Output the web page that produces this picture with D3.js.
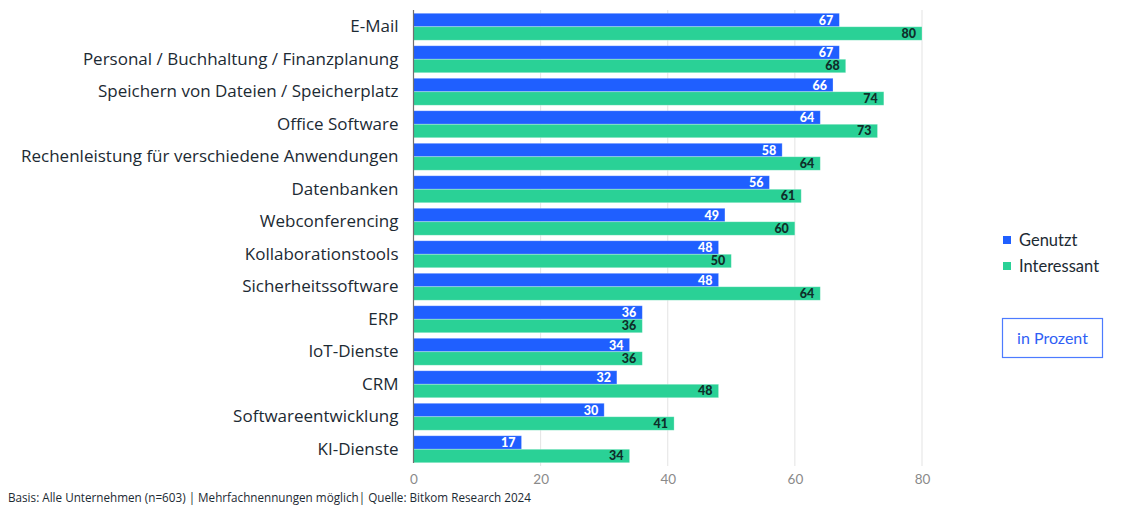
<!DOCTYPE html>
<html>
<head>
<meta charset="utf-8">
<script src="https://cdn.jsdelivr.net/npm/d3@7"></script>
<style>
  html, body { margin: 0; padding: 0; background: #fff; }
  svg { display: block; font-family: Lato, "Open Sans", sans-serif; }
</style>
</head>
<body>
<svg id="chart" width="1143" height="506"></svg>
<script>
// Cloud services used vs. considered interesting by companies (in percent)
const categories = [
  "E-Mail",
  "Personal / Buchhaltung / Finanzplanung",
  "Speichern von Dateien / Speicherplatz",
  "Office Software",
  "Rechenleistung für verschiedene Anwendungen",
  "Datenbanken",
  "Webconferencing",
  "Kollaborationstools",
  "Sicherheitssoftware",
  "ERP",
  "IoT-Dienste",
  "CRM",
  "Softwareentwicklung",
  "KI-Dienste"
];
const genutzt     = [67, 67, 66, 64, 58, 56, 49, 48, 48, 36, 34, 32, 30, 17];
const interessant = [80, 68, 74, 73, 64, 61, 60, 50, 64, 36, 36, 48, 41, 34];
const xTicks = [0, 20, 40, 60, 80];
const seriesNames = ["Genutzt", "Interessant"];
const seriesColors = ["#1f5fff", "#2ad196"];
const labelColors = ["#ffffff", "#0f2e2a"];
const footnote = "Basis: Alle Unternehmen (n=603) | Mehrfachnennungen möglich| Quelle: Bitkom Research 2024";
const unitLabel = "in Prozent";

const svg = d3.select("#chart");

const x = d3.scaleLinear().domain([0, 80]).range([413.5, 922]);
const y = d3.scaleBand().domain(categories).range([10.5, 465.5])
  .paddingInner(0.17).paddingOuter(0.085);
const sub = d3.scaleBand().domain(seriesNames).range([0, y.bandwidth()]);

// gridlines
svg.append("g")
  .selectAll("line")
  .data(xTicks.filter(d => d > 0))
  .join("line")
  .attr("x1", d => x(d)).attr("x2", d => x(d))
  .attr("y1", 10).attr("y2", 466)
  .attr("stroke", "#e3e3e3").attr("stroke-width", 1);

// x axis tick labels
const xAxis = d3.axisBottom(x).tickValues(xTicks).tickSize(0).tickPadding(8);
const gx = svg.append("g").attr("transform", "translate(0,466)").call(xAxis);
gx.select(".domain").remove();
gx.selectAll("text")
  .attr("fill", "#8a8a8a")
  .style("font-size", "13.5px")
  .style("font-family", "Lato, sans-serif");

// category labels
const yAxis = d3.axisLeft(y).tickSize(0).tickPadding(15);
const gy = svg.append("g").attr("transform", `translate(${x(0)},0)`).call(yAxis);
gy.select(".domain").remove();
gy.selectAll("text")
  .attr("fill", "#1c2a33")
  .style("font-size", "17px")
  .style("font-family", "'Open Sans', sans-serif");

// bars
const data = categories.map((c, i) => ({ cat: c, vals: [genutzt[i], interessant[i]] }));
const groups = svg.append("g").selectAll("g")
  .data(data).join("g")
  .attr("transform", d => `translate(0,${y(d.cat)})`);

groups.selectAll("rect")
  .data(d => d.vals.map((v, k) => ({ v, k })))
  .join("rect")
  .attr("x", x(0))
  .attr("y", d => sub(seriesNames[d.k]))
  .attr("width", d => x(d.v) - x(0))
  .attr("height", sub.bandwidth())
  .attr("fill", d => seriesColors[d.k])
  .attr("stroke", "#ffffff").attr("stroke-opacity", 0.35).attr("stroke-width", 0.8);

groups.selectAll("text")
  .data(d => d.vals.map((v, k) => ({ v, k })))
  .join("text")
  .attr("x", d => x(d.v) - 6)
  .attr("y", d => sub(seriesNames[d.k]) + sub.bandwidth() / 2)
  .attr("dy", "0.36em")
  .attr("text-anchor", "end")
  .attr("fill", d => labelColors[d.k])
  .style("font-size", "12.5px")
  .style("font-weight", "900")
  .text(d => d.v);

// zero axis line
svg.append("line")
  .attr("x1", x(0)).attr("x2", x(0))
  .attr("y1", 10).attr("y2", 463)
  .attr("stroke", "#707070").attr("stroke-width", 1.2);

// legend
const legend = svg.append("g").attr("transform", "translate(1003,240)");
seriesNames.forEach((name, i) => {
  const g = legend.append("g").attr("transform", `translate(0,${i * 26})`);
  g.append("rect").attr("x", 0).attr("y", -4).attr("width", 8).attr("height", 8)
    .attr("fill", seriesColors[i]);
  g.append("text").attr("x", 16).attr("y", 0).attr("dy", "0.36em")
    .attr("fill", "#1c2a33").style("font-size", "16.5px").text(name);
});

// unit box
const unit = svg.append("g").attr("transform", "translate(1002,318)");
unit.append("rect").attr("x", 0.5).attr("y", 0.5).attr("width", 100).attr("height", 39)
  .attr("fill", "none").attr("stroke", "#4d7bff").attr("stroke-width", 1.2);
unit.append("text").attr("x", 50.5).attr("y", 20).attr("dy", "0.36em")
  .attr("text-anchor", "middle").attr("fill", "#2f5ff5")
  .style("font-size", "16px").text(unitLabel);

// footnote
svg.append("text")
  .attr("x", 8).attr("y", 502)
  .attr("fill", "#1c2a33")
  .style("font-size", "11.7px")
  .style("font-family", "'Open Sans', sans-serif")
  .text(footnote);
</script>
</body>
</html>
